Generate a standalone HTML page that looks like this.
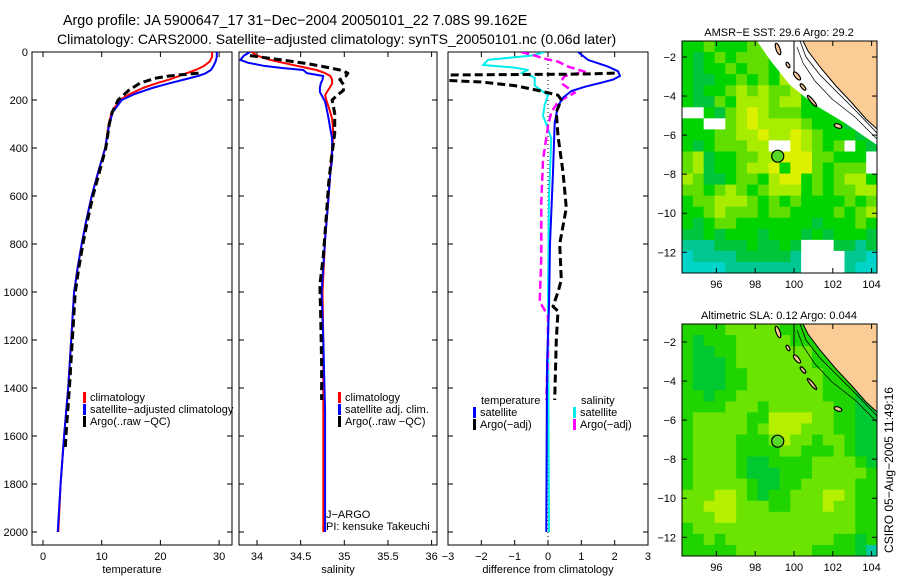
<!DOCTYPE html>
<html><head><meta charset="utf-8"><style>
html,body{margin:0;padding:0;background:#fff}
svg{display:block;font-family:"Liberation Sans",sans-serif}
</style></head><body>
<svg id="fig" width="900" height="580" viewBox="0 0 900 580">
<defs>
<clipPath id="c1"><rect x="32" y="52" width="200" height="493"/></clipPath>
<clipPath id="c2"><rect x="239" y="52" width="198" height="493"/></clipPath>
<clipPath id="c3"><rect x="448" y="52" width="200" height="493"/></clipPath>
</defs>
<text x="63" y="25" font-size="14.3">Argo profile: JA 5900647_17 31−Dec−2004 20050101_22 7.08S 99.162E</text>
<text x="57" y="44" font-size="14">Climatology: CARS2000. Satellite−adjusted climatology: synTS_20050101.nc (0.06d later)</text>
<g id="plots"></g>
<text x="893" y="470" font-size="12" transform="rotate(-90 893 470)" text-anchor="middle">CSIRO 05−Aug−2005 11:49:16</text>
</svg>
<script>
// ---- data ----
const depthTicks=[0,200,400,600,800,1000,1200,1400,1600,1800,2000];
const tempTicks=[0,10,20,30];
const salTicks=[34,34.5,35,35.5,36];
const salTickLabels=["34","34.5","35","35.5","36"];
const diffTicks=[-3,-2,-1,0,1,2,3];
const diffTickLabels=["−3","−2","−1","0","1","2","3"];

const tempDepths=[0,20,40,60,75,90,100,115,130,150,175,200,250,300,400,500,600,700,800,900,1000,1200,1400,1600,1800,2000];
const tempClim=[28.8,28.8,28.4,27.3,26.0,24.3,23.2,21.5,19.4,17.0,14.8,13.1,11.7,11.2,10.6,9.4,8.3,7.4,6.6,5.9,5.3,4.8,4.3,3.6,3.0,2.6];
const tempSat=[29.6,29.6,29.4,29.0,28.6,27.6,26.4,24.0,21.6,18.6,15.6,13.4,11.9,11.3,10.6,9.4,8.3,7.4,6.6,5.9,5.3,4.8,4.3,3.6,3.0,2.5];
const argoTempDepths=[88,95,100,110,130,160,200,250,300,400,500,600,700,800,900,1000,1200,1400,1600,1650];
const argoTemp=[26.5,23.5,21.5,19.0,16.5,14.6,12.8,11.8,11.3,10.7,9.6,8.5,7.6,6.8,6.1,5.5,5.0,4.5,3.9,3.8];

const salDepths=[0,15,33,45,57,67,75,88,100,115,132,150,167,180,207,240,278,320,360,450,505,650,780,1000,1200,1500,2000];
const salClim=[33.94,34.0,34.15,34.3,34.45,34.58,34.68,34.78,34.84,34.86,34.86,34.83,34.80,34.78,34.80,34.83,34.86,34.87,34.87,34.85,34.84,34.81,34.78,34.75,34.76,34.76,34.76];
const salSat=[33.92,33.85,33.81,33.9,34.07,34.3,34.53,34.57,34.76,34.75,34.73,34.72,34.72,34.74,34.78,34.80,34.82,34.84,34.86,34.86,34.84,34.81,34.78,34.74,34.76,34.78,34.78];
const argoSalDepths=[15,36,50,61,75,88,100,115,135,160,180,200,255,340,450,550,700,850,970,1100,1300,1450];
const argoSal=[33.92,34.34,34.6,34.76,34.95,35.04,35.02,34.95,34.99,34.99,34.92,34.86,34.89,34.89,34.85,34.82,34.79,34.76,34.72,34.73,34.74,34.74];

const dTSatDepths=[0,33,61,80,100,115,128,145,163,190,225,295,500,800,1060,1300,2000];
const dTSat=[0.9,1.2,1.8,2.1,2.16,1.95,1.6,1.1,0.7,0.45,0.3,0.2,0.15,0.06,0.03,-0.03,-0.05];
const dTArgoDepths=[88,92,96,104,118,125,140,160,180,200,250,350,500,650,800,950,1000,1060,1080,1200,1450];
const dTArgo=[2.0,1.0,-3.1,-3.1,-3.1,-2.0,-1.0,-0.3,0.3,0.4,0.25,0.3,0.45,0.55,0.35,0.4,0.3,0.15,0.3,0.25,0.2];
const dSSatDepths=[0,15,33,54,65,75,88,100,108,125,140,160,180,220,265,300,360,600,1000,2000];
const dSSat=[-0.1,-0.5,-1.8,-1.95,-1.0,-0.6,-0.8,-0.5,-0.4,-0.4,-0.4,-0.2,0,-0.1,-0.15,-0.05,0.1,0.03,0.0,0.03];
const dSArgoDepths=[0,15,28,40,61,82,100,120,135,170,208,250,310,450,625,850,1040,1100,1250,1450];
const dSArgo=[-0.8,-0.4,-0.1,0.3,0.6,1.1,0.5,0.4,0.45,0.8,0.3,0.1,0.0,-0.15,-0.2,-0.2,-0.25,0.0,0.0,-0.05];

const latTicks=[-2,-4,-6,-8,-10,-12];
const lonTicks=[96,98,100,102,104];
const sstGrid=[
"gglgggllgggggggggg","gGglglllgggggggggg","gGgglgllgyggggggGg","gGGgglglgylgggggGg",
"gGgglylyllyggggggg","gGGlgyyylyygggGgGg","wwgGlyYylllgggggGG","ggwwlyYyyyylgggGGG",
"gggllyyYyyYylgggGg","gGglllyywwYylglwgG","lyGggllyyYYYllgggw","lyGgglyyYgYYlglllw",
"ylGGgllgyYYglglyyg","llglylglyyyglgllyy","gllyyylglglgggglgl","gglylllgllgggglgly",
"gGgllgggggggGggglg","GGgGgggGgggGgGgggG","tttGGGgGGgGwwwGGtG","cttttGGGGGtwwwwttc",
"cccctttttttwwwwtcc"];
const slaGrid=[
"gggglllllggggggggg","gGggglllllgggggggg","gGGgglllllllgggggg","gGGGglllllllgggggg",
"gGGGgglllllllggggg","gGGGgglllllllggggG","ggGggllllllllgggGG","gggglllgllllllggGG",
"glllllggyyyyllggGG","glllllglyyylllggGG","gllllggglyllgllgGG","gllllggggllggglgGG",
"gllllgGGggggllllgG","gllllgGGGggglllllg","glllllgGGgglllllgg","lllyylgGgglllyylgg",
"llyyylllgglllyllgg","lllyylllllllllllgg","glllllllllllllllgg","gglgllllllllllggGg",
"ggggglllllllggggGt"];
const sstColors={g:"#00d400",G:"#00c43c",l:"#60de00",y:"#a8ec00",Y:"#dcf000",t:"#00c890",c:"#00d4c8",w:"#ffffff"};
const slaColors={g:"#20d400",G:"#00c830",l:"#6ae400",y:"#b4f000",t:"#00c8a0"};

// ---- helpers ----
const NS="http://www.w3.org/2000/svg";
const root=document.getElementById('plots');
function mk(tag,attrs,parent,text){const e=document.createElementNS(NS,tag);for(const k in attrs)e.setAttribute(k,attrs[k]);if(text!==undefined)e.textContent=text;(parent||root).appendChild(e);return e;}
const top0=52,bot=545;
function yD(d){return 52+d*0.24;}

function panel(x0,x1,xs,ticks,labels,xlabel,name,clip){
  const g=mk('g',{});
  
  
  const fr=mk('rect',{x:x0,y:top0,width:x1-x0,height:bot-top0,fill:'none',stroke:'#000','stroke-width':1},g);
  
  
  ticks.forEach((t,i)=>{
    const x=xs(t);
    mk('line',{x1:x,x2:x,y1:bot,y2:bot-5,stroke:'#000'},g);
    mk('line',{x1:x,x2:x,y1:top0,y2:top0+5,stroke:'#000'},g);
    const tl=mk('text',{x:x,y:bot+15,'font-size':11,'text-anchor':'middle'},g,labels[i]);
    
    
  });
  depthTicks.forEach(d=>{
    const y=yD(d);
    mk('line',{x1:x0,x2:x0+5,y1:y,y2:y,stroke:'#000'},g);
    mk('line',{x1:x1,x2:x1-5,y1:y,y2:y,stroke:'#000'},g);
  });
  const xl=mk('text',{x:(x0+x1)/2,y:bot+28,'font-size':11,'text-anchor':'middle'},g,xlabel);
  
  
  return mk('g',{'clip-path':'url(#'+clip+')'},g);
}
function series(g,depths,vals,xs,color,w,dash,name){
  const pts=depths.map((d,i)=>xs(vals[i]).toFixed(1)+','+yD(d).toFixed(1)).join(' ');
  const a={points:pts,fill:'none',stroke:color,'stroke-width':w,'stroke-linejoin':'round'};
  if(dash)a['stroke-dasharray']=dash;
  const p=mk('polyline',a,g);
  
  
}
function legendEntry(x,y,color,label,name){
  const r=mk('rect',{x:x,y:y-9,width:3,height:11,fill:color});
  
  
  const t=mk('text',{x:x+7,y:y,'font-size':11},undefined,label);
  
  
}

depthTicks.forEach(d=>{
  const t=mk('text',{x:28,y:yD(d)+4,'font-size':11,'text-anchor':'end'},undefined,String(d));
  
  
});

const xT=v=>43+v*5.87;
const g1=panel(32,232,xT,tempTicks,tempTicks.map(String),'temperature','temperature',"c1");
series(g1,tempDepths,tempClim,xT,'#ff0000',2,null,'temp-climatology-line');
series(g1,tempDepths,tempSat,xT,'#0000ff',2,null,'temp-satellite-line');
series(g1,argoTempDepths,argoTemp,xT,'#000',3,'8,4','temp-argo-line');
legendEntry(83,401,'#ff0000','climatology','legend-climatology');
legendEntry(83,413,'#0000ff','satellite−adjusted climatology','legend-satellite-adjusted');
legendEntry(83,425,'#000','Argo(..raw −QC)','legend-argo');

const xS=v=>257+(v-34)*87.3;
const g2=panel(239,437,xS,salTicks,salTickLabels,'salinity','salinity',"c2");
series(g2,salDepths,salClim,xS,'#ff0000',2,null,'sal-climatology-line');
series(g2,salDepths,salSat,xS,'#0000ff',2,null,'sal-satellite-line');
series(g2,argoSalDepths,argoSal,xS,'#000',3,'8,4','sal-argo-line');
legendEntry(338,401,'#ff0000','climatology','legend-sal-climatology');
legendEntry(338,413,'#0000ff','satellite adj. clim.','legend-sal-satellite');
legendEntry(338,425,'#000','Argo(..raw −QC)','legend-sal-argo');
const ja=mk('text',{x:326,y:518,'font-size':11},undefined,'J−ARGO');


const pi=mk('text',{x:326,y:530,'font-size':11},undefined,'PI: kensuke Takeuchi');



const xDf=v=>548+v*33.33;
const g3=panel(448,648,xDf,diffTicks,diffTickLabels,'difference from climatology','difference',"c3");
const zl=mk('line',{x1:548,x2:548,y1:top0,y2:bot,stroke:'#000','stroke-dasharray':'1,3'},g3);


series(g3,dSSatDepths,dSSat,xDf,'#00eeee',2,null,'diff-sal-satellite-line');
series(g3,dSArgoDepths,dSArgo,xDf,'#ff00ff',2.5,'8,4','diff-sal-argo-line');
series(g3,dTSatDepths,dTSat,xDf,'#0000ff',2,null,'diff-temp-satellite-line');
series(g3,dTArgoDepths,dTArgo,xDf,'#000',3,'8,4','diff-temp-argo-line');
const lt=mk('text',{x:481,y:404,'font-size':11},undefined,'temperature');


legendEntry(473,416,'#0000ff','satellite','legend-diff-temp-satellite');
legendEntry(473,428,'#000','Argo(−adj)','legend-diff-temp-argo');
const ls=mk('text',{x:581,y:404,'font-size':11},undefined,'salinity');


legendEntry(573,416,'#00eeee','satellite','legend-diff-sal-satellite');
legendEntry(573,428,'#ff00ff','Argo(−adj)','legend-diff-sal-argo');

function map(y0,y1,latRef,grid,colors,title,name,hasWhite){
  const x0=682,x1=877;
  const g=mk('g',{});
  
  
  const rows=grid.length,cols=grid[0].length;
  const cw=(x1-x0)/cols,ch=(y1-y0)/rows;
  grid.forEach((row,j)=>{for(let i=0;i<cols;i++){
    const c=mk('rect',{x:(x0+i*cw).toFixed(2),y:(y0+j*ch).toFixed(2),width:(cw+0.4).toFixed(2),height:(ch+0.4).toFixed(2),fill:colors[row[i]]||'#00d400'},g);
    
    
  }});
  if(hasWhite){
    mk('polygon',{points:`757,${y0} 803,${y0} 877,${y0+87} 877,${y0+104} 845,${y0+82} 815,${y0+64} 790,${y0+44} 770,${y0+19}`,fill:'#fff'},g);
  }
  const land=mk('polygon',{points:`803,${y0} ${x1},${y0} ${x1},${y0+88} 866,${y0+78} 852,${y0+62} 836,${y0+45} 820,${y0+26} 808,${y0+10}`,fill:'#fccc96',stroke:'#000','stroke-width':1},g);
  
  
  mk('polyline',{points:`800,${y0} 806,${y0+16} 820,${y0+34} 838,${y0+52} 856,${y0+70} 877,${y0+92}`,fill:'none',stroke:'#000','stroke-width':0.8},g);
  mk('polyline',{points:`797,${y0+6} 803,${y0+22} 815,${y0+40} 832,${y0+58} 855,${y0+76} 877,${y0+98}`,fill:'none',stroke:'#000','stroke-width':0.7},g);
  mk('line',{x1:794,x2:794,y1:y0,y2:y0+31,stroke:'#000'},g);
  [[778,y0+8,2,6,-20],[788,y0+24,1.5,3,-30],[797,y0+35,2,5,-40],[803,y0+46,1.5,4,-40],[812,y0+60,1.5,7,-40],[838,y0+85,4,2,20]].forEach(a=>{
    const e=mk('ellipse',{cx:a[0],cy:a[1],rx:a[2],ry:a[3],fill:'#fccc96',stroke:'#000','stroke-width':1.2,transform:`rotate(${a[4]} ${a[0]} ${a[1]})`},g);
    
    
  });
  mk('rect',{x:x0,y:y0,width:x1-x0,height:y1-y0,fill:'none',stroke:'#000'},g);
  const latY=lat=>latRef+(-2-lat)*19.53;
  const lonX=lon=>794+(lon-100)*19.4;
  latTicks.forEach(l=>{
    const y=latY(l);
    mk('line',{x1:x0,x2:x0+5,y1:y,y2:y,stroke:'#000'},g);
    mk('line',{x1:x1,x2:x1-5,y1:y,y2:y,stroke:'#000'},g);
    const t=mk('text',{x:676,y:y+4,'font-size':11,'text-anchor':'end'},g,String(l).replace('-','−'));
    
    
  });
  lonTicks.forEach(l=>{
    const x=lonX(l);
    mk('line',{x1:x,x2:x,y1:y1,y2:y1-5,stroke:'#000'},g);
    mk('line',{x1:x,x2:x,y1:y0,y2:y0+5,stroke:'#000'},g);
    const t=mk('text',{x:x,y:y1+15,'font-size':11,'text-anchor':'middle'},g,String(l));
    
    
  });
  const mkr=mk('circle',{cx:lonX(99.162),cy:latY(-7.08),r:6,fill:'#58d828',stroke:'#000','stroke-width':1.2},g);
  
  
  const tt=mk('text',{x:779,y:y0-5,'font-size':11,'text-anchor':'middle'},g,title);
  
  
}
map(41,273,57,sstGrid,sstColors,'AMSR−E SST: 29.6 Argo: 29.2','sst-map',true);
map(324,556,342,slaGrid,slaColors,'Altimetric SLA: 0.12 Argo: 0.044','sla-map',false);
</script>
</body></html>
